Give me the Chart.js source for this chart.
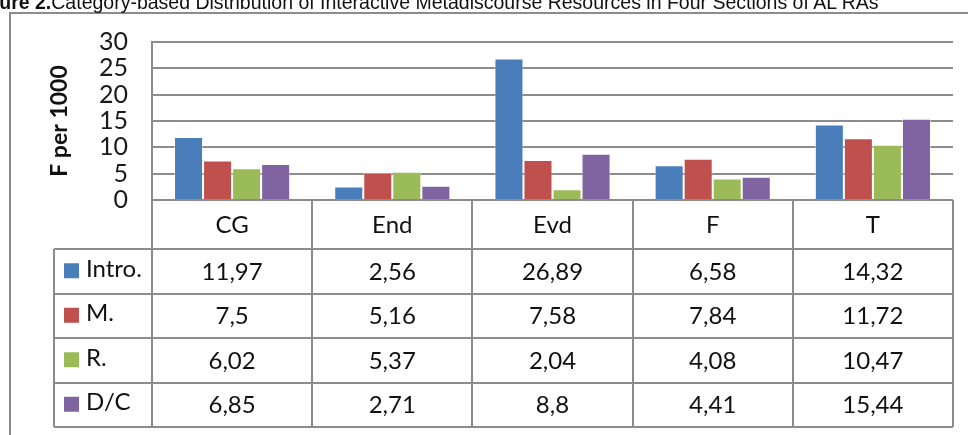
<!DOCTYPE html>
<html>
<head>
<meta charset="utf-8">
<script src="https://cdn.jsdelivr.net/npm/chart.js@4/dist/chart.umd.min.js"></script>
<style>
  html, body { margin: 0; padding: 0; background: #fff; overflow: hidden; }
  #wrap { position: relative; width: 968px; height: 435px; }
  #caption {
    position: absolute; left: -30px; top: -7.5px; white-space: nowrap;
    font-family: "Liberation Sans", Arial, sans-serif; font-size: 19.5px; line-height: 19.5px; color: #111;
  }
  #caption b { font-weight: bold; }
</style>
</head>
<body>
<div id="wrap">
  <canvas id="chart" width="968" height="435"></canvas>
  <div id="caption"><b>Figure 2.</b>Category-based Distribution of Interactive Metadiscourse Resources in Four Sections of AL RAs</div>
</div>
<script>
const categories = ['CG', 'End', 'Evd', 'F', 'T'];
const seriesNames = ['Intro.', 'M.', 'R.', 'D/C'];
const intro = [11.97, 2.56, 26.89, 6.58, 14.32];
const methods = [7.5, 5.16, 7.58, 7.84, 11.72];
const results = [6.02, 5.37, 2.04, 4.08, 10.47];
const discussion = [6.85, 2.71, 8.8, 4.41, 15.44];
const colors = ['#4a7ebb', '#c0504d', '#9bbb59', '#8064a2'];

const seriesValues = [intro, methods, results, discussion];
const lineColor = '#8c8c8c';
const fontFamily = 'Lato, "Open Sans", sans-serif';

// Excel-style data table under the plot, laid out on the x scale
const dataTablePlugin = {
    id: 'dataTable',
    beforeDraw(chart) {
        const ctx = chart.ctx;
        ctx.save();
        ctx.strokeStyle = lineColor;
        ctx.lineWidth = 2;
        ctx.strokeRect(10, 13, 1000, 500);
        ctx.restore();
    },
    afterDraw(chart) {
        const ctx = chart.ctx;
        const x = chart.scales.x;
        const area = chart.chartArea;
        const n = categories.length;
        const colW = (area.right - area.left) / n;
        const headTop = area.bottom;
        const headH = 49;
        const rowH = 44.5;
        const legendLeft = 54;
        const tableBottom = headTop + headH + rowH * seriesNames.length;

        ctx.save();
        ctx.strokeStyle = lineColor;
        ctx.lineWidth = 2;
        ctx.beginPath();
        // verticals
        for (let i = 0; i <= n; i++) {
            const vx = Math.round(area.left + i * colW);
            ctx.moveTo(vx, headTop);
            ctx.lineTo(vx, tableBottom);
        }
        ctx.moveTo(legendLeft, headTop + headH);
        ctx.lineTo(legendLeft, tableBottom);
        // horizontals
        ctx.moveTo(area.left, headTop);
        ctx.lineTo(area.right, headTop);
        for (let r = 0; r <= seriesNames.length; r++) {
            const hy = Math.round(headTop + headH + r * rowH);
            ctx.moveTo(legendLeft, hy);
            ctx.lineTo(area.right, hy);
        }
        ctx.stroke();

        ctx.fillStyle = '#111';
        ctx.font = '24px ' + fontFamily;
        ctx.textBaseline = 'middle';
        ctx.textAlign = 'center';
        categories.forEach((c, i) => {
            ctx.fillText(c, x.getPixelForValue(i), headTop + headH / 2 + 1);
        });
        seriesNames.forEach((name, r) => {
            const cy = headTop + headH + r * rowH + rowH / 2;
            ctx.fillStyle = colors[r];
            ctx.fillRect(64, cy - 8, 15, 15);
            ctx.fillStyle = '#111';
            ctx.textAlign = 'left';
            ctx.fillText(name, 86, cy - 2);
            ctx.textAlign = 'center';
            seriesValues[r].forEach((v, i) => {
                ctx.fillText(String(v).replace('.', ','), x.getPixelForValue(i), cy + 1);
            });
        });
        ctx.restore();
    }
};

new Chart(document.getElementById('chart'), {
    type: 'bar',
    data: {
        labels: categories,
        datasets: seriesNames.map((name, k) => ({
            label: name,
            data: seriesValues[k],
            backgroundColor: colors[k],
            borderColor: 'rgba(255, 255, 255, 0.45)',
            borderWidth: 1,
            barPercentage: 1.0,
            categoryPercentage: 0.725,
        })),
    },
    options: {
        responsive: false,
        animation: false,
        layout: { padding: { left: 0, top: 42, right: 15, bottom: 235 } },
        plugins: {
            legend: { display: false },
            tooltip: { enabled: false },
        },
        scales: {
            x: { display: false },
            y: {
                min: 0,
                max: 30,
                afterFit(scale) { scale.width = 152; },
                title: {
                    display: true,
                    text: 'F per 1000',
                    font: { family: fontFamily, size: 23, weight: 'bold' },
                    color: '#111',
                    padding: { top: 46, bottom: 0 },
                },
                grid: { color: lineColor, lineWidth: 2, drawTicks: false },
                border: { display: true, color: lineColor, width: 2 },
                ticks: {
                    stepSize: 5,
                    autoSkip: false,
                    padding: 24,
                    color: '#1a1a1a',
                    font: { family: fontFamily, size: 25 },
                },
            },
        },
    },
    plugins: [dataTablePlugin],
});
</script>
</body>
</html>
